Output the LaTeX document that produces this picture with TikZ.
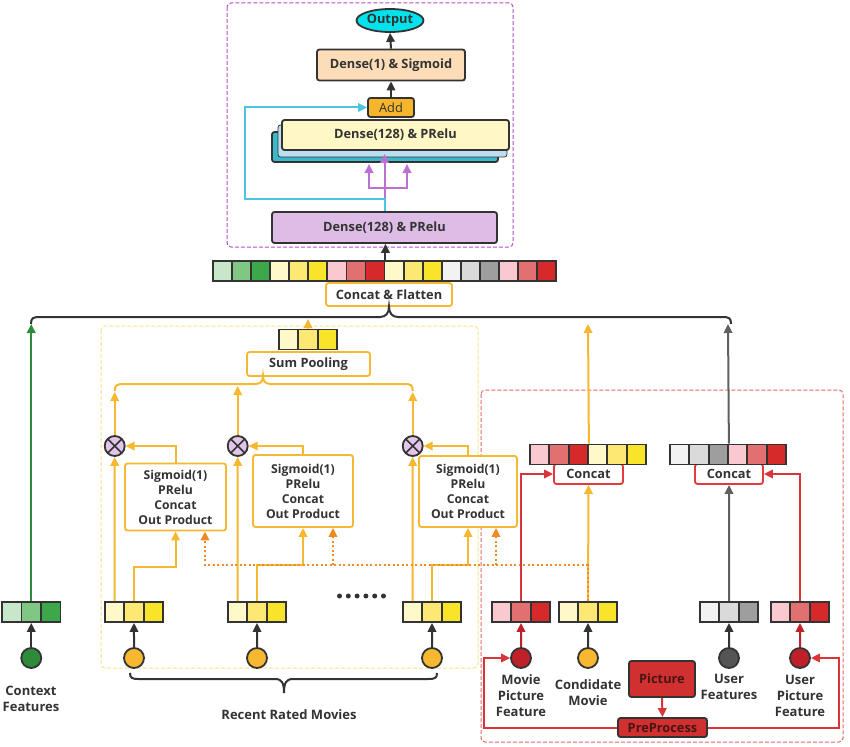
\documentclass[tikz,border=0pt]{standalone}
\usepackage{fontspec}
\setmainfont{Open Sans}
\usetikzlibrary{arrows.meta,calc,shapes.geometric}
\definecolor{dk}{HTML}{333333}
\definecolor{yel}{HTML}{F6B830}
\definecolor{org}{HTML}{F08A24}
\definecolor{redL}{HTML}{D9343A}
\definecolor{redB}{HTML}{E5393C}
\definecolor{drd}{HTML}{C0202A}
\definecolor{grL}{HTML}{606060}
\definecolor{gL}{HTML}{2E8B3C}
\definecolor{pur}{HTML}{BE6FD2}
\definecolor{cyn}{HTML}{4CC6E0}
\definecolor{cyanF}{HTML}{00E3EC}
\definecolor{peach}{HTML}{FDDDB8}
\definecolor{addF}{HTML}{F7B52C}
\definecolor{tealF}{HTML}{3BB9CB}
\definecolor{lblue}{HTML}{BFDDF0}
\definecolor{lyel}{HTML}{FFF8C6}
\definecolor{lpurp}{HTML}{DDBDE6}
\definecolor{otF}{HTML}{E2C6EA}
\definecolor{pred}{HTML}{D0302F}
\definecolor{ptxt}{HTML}{4A1414}
\definecolor{g1}{HTML}{C8E6C9}
\definecolor{g2}{HTML}{81C784}
\definecolor{g3}{HTML}{3DA84A}
\definecolor{y1}{HTML}{FFF8C8}
\definecolor{y2}{HTML}{FDE873}
\definecolor{y3}{HTML}{F9E42A}
\definecolor{r1}{HTML}{FAC8CF}
\definecolor{r2}{HTML}{E37070}
\definecolor{r3}{HTML}{D62A2A}
\definecolor{k1}{HTML}{F2F2F2}
\definecolor{k2}{HTML}{DADADA}
\definecolor{k3}{HTML}{9E9E9E}
\definecolor{ggF}{HTML}{2E8B3A}
\definecolor{ufF}{HTML}{555555}
\definecolor{yframe}{HTML}{F8E48A}
\definecolor{rframe}{HTML}{E06868}
\definecolor{pframe}{HTML}{B050C8}
\newcommand\mkcells[5]{%
  \foreach \col [count=\idx] in {#5}{%
    \node[cell, minimum width=#4pt, fill=\col] (#1\idx) at ({#2+#4*(\idx-0.5)},#3) {};}}
\begin{document}
\begin{tikzpicture}[x=1pt,y=-1pt,
  box/.style={draw=dk, line width=1.8pt, rounded corners=2.5pt, inner sep=0pt,
    font=\bfseries\fontsize{12.8}{14}\selectfont, text=dk},
  obox/.style={box, draw=yel, fill=white},
  abox/.style={obox, align=center, font=\bfseries\fontsize{12.2}{15}\selectfont},
  cell/.style={draw=dk, line width=1.8pt, minimum height=20pt, inner sep=0pt},
  circ/.style={circle, draw=dk, line width=1.8pt, minimum size=20pt, inner sep=0pt},
  otimes/.style={circ, fill=otF, path picture={
    \draw[dk, line width=1.6pt]
      ($(path picture bounding box.center)+(-7pt,-7pt)$) -- ($(path picture bounding box.center)+(7pt,7pt)$)
      ($(path picture bounding box.center)+(-7pt,7pt)$) -- ($(path picture bounding box.center)+(7pt,-7pt)$);}},
  lbl/.style={align=center, inner sep=0pt, font=\bfseries\fontsize{13}{16}\selectfont, text=dk},
  arr/.style={line width=2pt, -{Triangle[length=9pt,width=8.5pt]}},
  darr/.style={arr, draw=dk},
  yarr/.style={arr, draw=yel},
  odot/.style={arr, draw=org, dash pattern=on 2pt off 2.5pt},
  rarr/.style={arr, draw=redL},
  drarr/.style={arr, draw=drd},
  grarr/.style={arr, draw=grL},
  garr/.style={arr, draw=gL},
  parr/.style={arr, draw=pur},
  carr/.style={arr, draw=cyn},
  frame/.style={line width=1pt, dash pattern=on 4pt off 2pt, rounded corners=4pt}
]
\useasboundingbox (0,0) rectangle (850,746);
% frames
\draw[frame, draw=pframe] (227,3) rectangle (513,247);
\draw[frame, draw=yframe] (101,326) rectangle (478,668);
\draw[frame, draw=rframe] (481,390) rectangle (843,742);

% top tower
\node[box, ellipse, fill=cyanF, minimum width=67pt, minimum height=23pt] (out) at (390,20.5) {Output};
\node[box, fill=peach, minimum width=148pt, minimum height=31pt] (d1) at (391,65) {Dense(1) \& Sigmoid};
\node[box, fill=addF, minimum width=46pt, minimum height=19pt, font=\fontsize{12.8}{14}\selectfont] (add) at (391,107.5) {Add};
\node[box, fill=tealF, minimum width=226pt, minimum height=30pt] (d128c) at (385,147) {};
\node[box, fill=lblue, line width=0.8pt, minimum width=229pt, minimum height=32pt] (d128b) at (392.5,141) {};
\node[box, fill=lyel, minimum width=227pt, minimum height=30pt] (d128) at (395.5,135) {Dense(128) \& PRelu};
\node[box, fill=lpurp, minimum width=225pt, minimum height=31pt] (d128l) at (384.5,227.5) {Dense(128) \& PRelu};

% feature bar
\mkcells{fb}{213}{271}{19.06}{g1,g2,g3,y1,y2,y3,r1,r2,r3,y1,y2,y3,k1,k2,k3,r1,r2,r3}
\node[obox, minimum width=126pt, minimum height=23pt] (cf) at (389,294.5) {Concat \& Flatten};

% sum pooling
\mkcells{sp}{279}{339.5}{19.33}{y1,y2,y3}
\node[obox, minimum width=123pt, minimum height=24pt] (spool) at (308.5,364) {Sum Pooling};

% attention units
\node[otimes] (ot1) at (114.7,446) {};
\node[otimes] (ot2) at (237.7,446) {};
\node[otimes] (ot3) at (412.7,446) {};
\node[abox, minimum width=101pt, minimum height=67pt] (at1) at (175.5,497) {Sigmoid(1)\\PRelu\\Concat\\Out Product};
\node[abox, minimum width=100pt, minimum height=72pt] (at2) at (303,491) {Sigmoid(1)\\PRelu\\Concat\\Out Product};
\node[abox, minimum width=98pt, minimum height=71pt] (at3) at (468,491.5) {Sigmoid(1)\\PRelu\\Concat\\Out Product};

% concat boxes (drawn before their vectors)
\node[box, draw=redB, fill=white, minimum width=69pt, minimum height=20pt] (ccl) at (588.5,474) {Concat};
\node[box, draw=redB, fill=white, minimum width=68pt, minimum height=20pt] (ccr) at (729,474) {Concat};
\mkcells{cc}{530}{454.5}{19.33}{r1,r2,r3,y1,y2,y3}
\mkcells{cr}{670}{454.5}{19.33}{k1,k2,k3,r1,r2,r3}

% embedding vectors
\mkcells{cx}{2}{612}{19.5}{g1,g2,g3}
\mkcells{ra}{105}{612}{19.33}{y1,y2,y3}
\mkcells{rb}{228}{612}{19.33}{y1,y2,y3}
\mkcells{rc}{403}{612}{19.33}{y1,y2,y3}
\mkcells{mp}{492}{612}{19.33}{r1,r2,r3}
\mkcells{cm}{559}{612}{19.33}{y1,y2,y3}
\mkcells{uf}{700}{612}{19.33}{k1,k2,k3}
\mkcells{up}{771}{612}{19.33}{r1,r2,r3}

% input circles
\node[circ, fill=ggF] (cxc) at (31.25,658) {};
\node[circ, fill=yel] (rac) at (134,658) {};
\node[circ, fill=yel] (rbc) at (257,658) {};
\node[circ, fill=yel] (rcc) at (432,658) {};
\node[circ, fill=drd] (mpc) at (521,658) {};
\node[circ, fill=yel] (cmc) at (588,658) {};
\node[circ, fill=ufF] (ufc) at (729,658) {};
\node[circ, fill=drd] (upc) at (800,658) {};

\node[box, fill=pred, minimum width=66pt, minimum height=36pt, text=ptxt] (pic) at (662,679) {Picture};
\node[box, fill=pred, minimum width=89pt, minimum height=19pt, text=ptxt] (pre) at (662.5,727.5) {PreProcess};

% labels
\node[lbl] (lcx) at (31,699) {Context\\Features};
\node[lbl] (lrr) at (289,715) {Recent Rated Movies};
\node[lbl] (lmp) at (521,696) {Movie\\Picture\\Feature};
\node[lbl] (lcm) at (588,693) {Condidate\\Movie};
\node[lbl] (luf) at (729,687) {User\\Features};
\node[lbl] (lup) at (800,696) {User\\Picture\\Feature};

% dots
\foreach \k in {0,...,5} \fill[dk] ({339.5+8.8*\k},596) circle (2.5pt);

% ---- connectors: top tower
\draw[darr] (d1.north) -- (out.south);
\draw[darr] (add.north) -- (d1.south);
\draw[darr] (fb9.north east) -- (fb9.north east |- d128l.south);
\coordinate (pb) at (384.5,188);
\coordinate (pl) at (369,164);
\coordinate (pr) at (407,164);
\coordinate (pc) at (384.5,154);
\draw[parr] (d128l.north) -- (pc);
\draw[parr] (pb) -| (pl);
\draw[parr] (pb) -| (pr);
\coordinate (cyl) at (245,199);
\draw[carr] (d128l.north) |- (cyl) |- (add.west);

% top brace
\draw[dk, line width=2pt] (31,324) .. controls (31,318) and (33,317) .. (40,317) -- (380,317)
  .. controls (386,317) and (389,313) .. (389,306.5) .. controls (389,313) and (392,317) .. (398,317)
  -- (722,317) .. controls (729,317) and (731,318) .. (731,324);
\coordinate (bgx) at (31.25,324);
\coordinate (bsp) at (308,319);
\coordinate (bcc) at (588,324);
\coordinate (bcr) at (728,324);
\draw[garr] (cx2.north) -- (bgx);
\draw[yarr] (sp2.north) -- (bsp);
\draw[yarr] (cc3.north east) -- (bcc);
\draw[grarr] (cr3.north east) -- (bcr);

% sum pooling brace
\draw[yel, line width=2pt] (114.7,391) .. controls (114.7,385) and (117,384) .. (124,384) -- (255,384)
  .. controls (261,384) and (263,381) .. (263,376) .. controls (263,381) and (265,384) .. (271,384)
  -- (404,384) .. controls (411,384) and (412.7,385) .. (412.7,391);
\coordinate (sb1) at (114.7,392);
\coordinate (sb2) at (237.7,386);
\coordinate (sb3) at (412.7,392);
\draw[yarr] (ot1.north) -- (sb1);
\draw[yarr] (ot2.north) -- (sb2);
\draw[yarr] (ot3.north) -- (sb3);

% attention
\draw[yarr] (at1.north) |- (ot1.east);
\draw[yarr] (at2.north) |- (ot2.east);
\draw[yarr] (at3.north) |- (ot3.east);
\draw[yarr] (ra1.north) -- (ot1.south);
\draw[yarr] (rb1.north) -- (ot2.south);
\draw[yarr] (rc1.north) -- (ot3.south);
\coordinate (ja) at (175.5,567);
\coordinate (jb) at (303,565);
\coordinate (jc) at (468,565);
\draw[yarr] (ra2.north) |- (ja) -- (at1.south);
\draw[yarr] (rb2.north) |- (jb) -- (at2.south);
\draw[yarr] (rc2.north) |- (jc) -- (at3.south);

% candidate
\draw[yarr] (cm2.north) -- (ccl.south);
\coordinate (oa) at (205,565);
\coordinate (ob) at (333,565);
\coordinate (oc) at (496,565);
\draw[odot] (cm2.north) |- (oa) -- (oa |- at1.south);
\draw[odot] (ob) -- (ob |- at2.south);
\draw[odot] (oc) -- (oc |- at3.south);

% right side
\draw[rarr] (mp2.north) |- (ccl.west);
\draw[rarr] (up2.north) |- (ccr.east);
\draw[grarr] (uf2.north) -- (ccr.south);

% circles to vectors
\draw[darr] (cxc.north) -- (cx2.south);
\draw[darr] (rac.north) -- (ra2.south);
\draw[darr] (rbc.north) -- (rb2.south);
\draw[darr] (rcc.north) -- (rc2.south);
\draw[darr] (cmc.north) -- (cm2.south);
\draw[darr] (ufc.north) -- (uf2.south);
\draw[drarr] (mpc.north) -- (mp2.south);
\draw[drarr] (upc.north) -- (up2.south);

% picture preprocess
\draw[rarr] (pic.south) -- (pre.north);
\coordinate (rl) at (484,658);
\coordinate (rr) at (839,658);
\draw[rarr] (pre.west) -| (rl) -- (mpc.west);
\draw[rarr] (pre.east) -| (rr) -- (upc.east);

% bottom brace
\draw[dk, line width=2pt] (130,673) .. controls (130,678) and (132,679) .. (139,679) -- (275,679)
  .. controls (282,679) and (284,683) .. (284,693) .. controls (284,683) and (286,679) .. (293,679)
  -- (428,679) .. controls (435,679) and (437,678) .. (437,673);
\end{tikzpicture}
\end{document}
